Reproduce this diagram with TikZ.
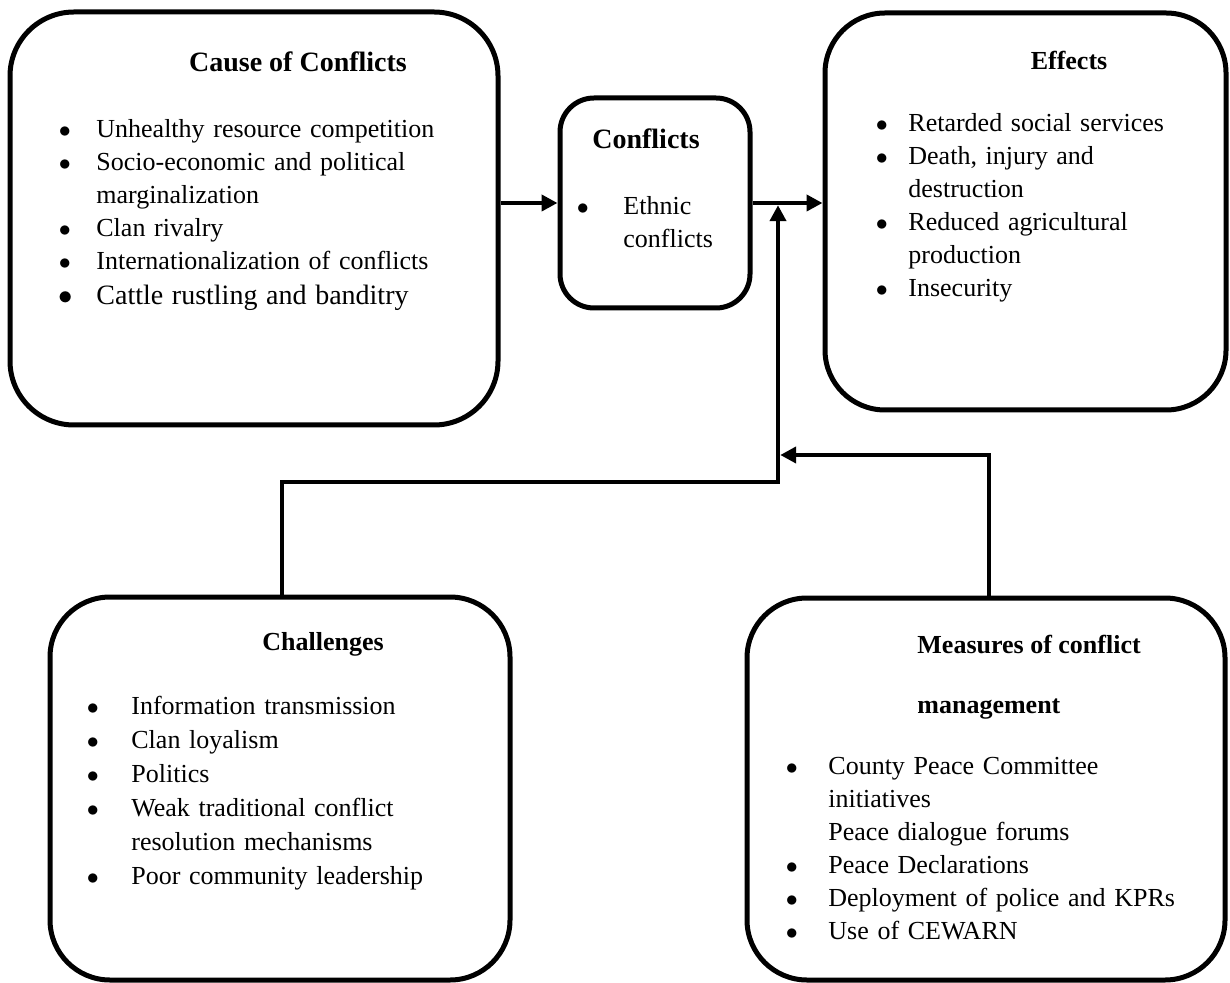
\documentclass[tikz,border=0pt]{standalone}
\usepackage{fontspec}
\setmainfont{Liberation Serif}
\usetikzlibrary{arrows.meta,positioning}
\newlength{\bw}
\newcommand{\bi}{\makebox[\bw][l]{$\bullet$}}
\newcommand{\bc}{\hspace*{\bw}}
\begin{document}
\begin{tikzpicture}[x=0.5pt,y=-0.5pt,
    box/.style={draw,line width=2.5pt,rounded corners=#1,inner sep=0pt},
    box/.default=30pt,
    ttl/.style={inner sep=0pt,font=\bfseries\fontsize{#1}{16}\selectfont},
    ttl/.default=13,
    lst/.style={anchor=north west,inner sep=0pt,align=left,text width=#1,font=\fontsize{13}{16.5}\selectfont},
    arr/.style={line width=2.2pt,-{Triangle[length=8pt,width=8pt]}}]
    \useasboundingbox (0,0) rectangle (1230,983);
    \node[box=32pt,minimum width=244pt,minimum height=206.5pt] (causes) at (254,218.5) {};
    \node[box=17pt,minimum width=95pt,minimum height=105pt] (conflicts) at (655,203) {};
    \node[box,minimum width=200.5pt,minimum height=198.5pt] (effects) at (1025.5,211.5) {};
    \node[box,minimum width=230pt,minimum height=191.5pt] (challenges) at (280,788.5) {};
    \node[box,minimum width=239pt,minimum height=191pt] (measures) at (986,789) {};
    \node[ttl=14] (causesT) at (298,62) {Cause of Conflicts};
    \node[ttl=14] (conflictsT) at (646,139) {Conflicts};
    \node[ttl] (effectsT) at (1069,60) {Effects};
    \node[ttl] (challengesT) at (323,644) {Challenges};
    \node[ttl,anchor=north west,align=left] (measuresT) at (917,635) {Measures of conflict\\[14pt]management};
    \node[lst=200pt] (causesL) at (58.5,119) {\setlength{\bw}{18.75pt}\bi Unhealthy resource competition\\
        \bi Socio-economic and political\\ \bc marginalization\\ \bi Clan rivalry\\
        \bi Internationalization of conflicts\\[1pt] {\fontsize{14}{17}\selectfont\bi Cattle rustling and banditry}};
    \node[lst=120pt] (conflictsL) at (576.5,196) {\setlength{\bw}{23.25pt}\bi Ethnic\\ \bc conflicts};
    \node[lst=160pt] (effectsL) at (875.5,113) {\setlength{\bw}{16.25pt}\bi Retarded social services\\
        \bi Death, injury and\\ \bc destruction\\ \bi Reduced agricultural\\ \bc production\\ \bi Insecurity};
    \node[lst=190pt,font=\fontsize{13}{17}\selectfont] (challengesL) at (86.5,696) {\setlength{\bw}{22.25pt}\bi Information transmission\\
        \bi Clan loyalism\\ \bi Politics\\ \bi Weak traditional conflict\\ \bc resolution mechanisms\\
        \bi Poor community leadership};
    \node[lst=200pt] (measuresL) at (785.5,757) {\setlength{\bw}{21.25pt}\bi County Peace Committee\\
        \bc initiatives\\ \bc Peace dialogue forums\\ \bi Peace Declarations\\
        \bi Deployment of police and KPRs\\ \bi Use of CEWARN};
    \coordinate (jn) at (778,203);
    \coordinate (bend) at (778,482);
    \coordinate (chup) at (282,482);
    \coordinate (msup) at (989,455);
    \draw[arr] (conflicts.west -| causes.east) -- (conflicts.west);
    \draw[arr] (conflicts.east) -- (conflicts.east -| effects.west);
    \draw[arr,shorten >=1.1pt] (chup |- challenges.north) -- (chup) -- (bend) -- (jn);
    \draw[arr,shorten >=1.1pt] (msup |- measures.north) -- (msup) -- (msup -| jn);
\end{tikzpicture}
\end{document}
